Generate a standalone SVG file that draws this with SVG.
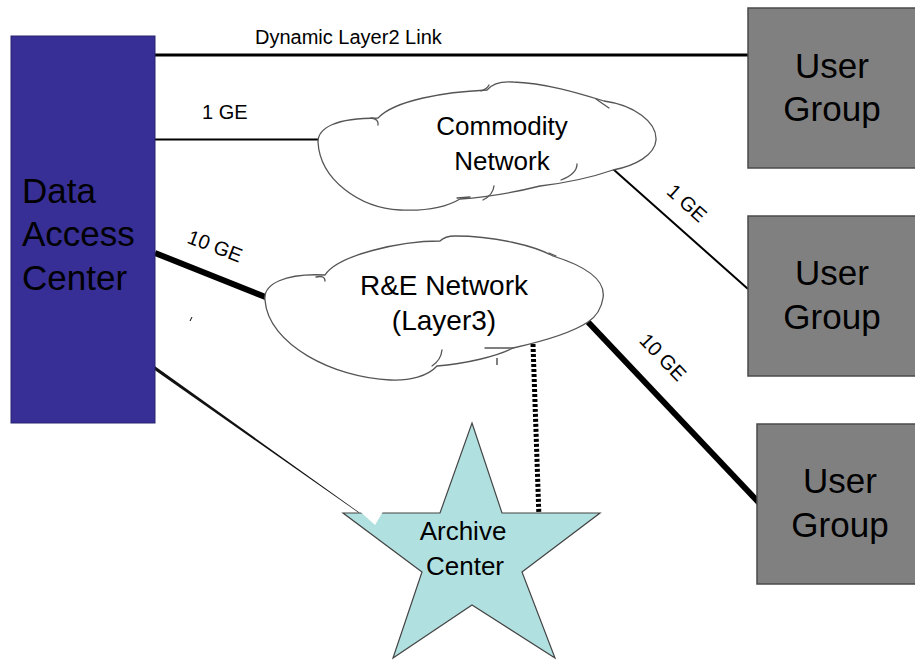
<svg xmlns="http://www.w3.org/2000/svg" width="915" height="661" viewBox="0 0 915 661">
  <style>
    text { font-family: "Liberation Sans", Arial, sans-serif; fill: #000; }
    .big { font-size: 35px; }
    .cloudtxt { font-size: 26px; text-anchor: middle; }
    .lbl { font-size: 20px; }
    .lblc { font-size: 20px; text-anchor: middle; }
    .ug { fill: #808080; stroke: #4a4a4a; stroke-width: 1.5; }
    .cloud { fill: #fff; stroke: #555; stroke-width: 1.3; }
    .hook { fill: none; stroke: #555; stroke-width: 1.3; stroke-linecap: round; }
    .link { stroke: #000; fill: none; }
  </style>
  <rect width="915" height="661" fill="#fff"/>

  <!-- links -->
  <g id="connectors">
    <line class="link" x1="155" y1="55" x2="749" y2="55" stroke-width="3"/>
    <line class="link" x1="155" y1="139.5" x2="318" y2="139.5" stroke-width="2" stroke="#333"/>
    <line class="link" x1="155" y1="253" x2="268" y2="298" stroke-width="6"/>
    <polygon points="155,366.3 155,370.3 359,513 359,512.3" fill="#111"/>
    <line class="link" x1="613" y1="169" x2="748" y2="289" stroke-width="2" stroke="#222"/>
    <line class="link" x1="588" y1="322" x2="764" y2="508" stroke-width="6"/>
    <line class="link" x1="533" y1="344" x2="539" y2="518" stroke-width="5" stroke-dasharray="3 2"/>
    <!-- stray marks -->
    <line class="link" x1="192" y1="317" x2="190" y2="321" stroke-width="1" stroke="#444"/>
    <line class="link" x1="497" y1="358" x2="497" y2="365" stroke-width="1" stroke="#777"/>
  </g>

  <!-- link labels -->
  <g id="labels">
    <text class="lbl" x="255" y="44">Dynamic Layer2 Link</text>
    <text class="lbl" x="202" y="119">1 GE</text>
    <g transform="translate(215,246) rotate(21)"><text class="lblc" x="0" y="7">10 GE</text></g>
    <g transform="translate(687,203) rotate(42)"><text class="lblc" x="0" y="7">1 GE</text></g>
    <g transform="translate(663,357) rotate(46)"><text class="lblc" x="0" y="7">10 GE</text></g>
  </g>

  <g id="data-access-center">
    <rect x="11" y="36" width="144" height="387" fill="#372f96" stroke="#2a2470" stroke-width="1"/>
    <text class="big" x="22" y="203">Data</text>
    <text class="big" x="22" y="246">Access</text>
    <text class="big" x="22" y="290">Center</text>
  </g>

  <g id="commodity-network">
    <path class="cloud" d="M 318,142 C 318,128 335,118 378,118 C 395,100 445,92 487,90 C 492,84 500,81 513,82 C 545,83 578,93 604,101 C 634,105 657,122 656,140 C 655,155 635,166 613,170 C 590,178 565,183 540,186 C 520,191 490,197 460,199 C 445,208 422,211 400,210 C 360,208 320,180 318,142 Z"/>
    <path class="hook" d="M 371,118 Q 379,119 378,125"/>
    <path class="hook" d="M 481,91 Q 487,89 489,85"/>
    <path class="hook" d="M 596,99 Q 603,104 609,108"/>
    <path class="hook" d="M 577,164 Q 577,174 561,180"/>
    <path class="hook" d="M 494,186 Q 493,195 483,200"/>
    <path class="hook" d="M 457,198 L 470,197"/>
    <text class="cloudtxt" x="502" y="135">Commodity</text>
    <text class="cloudtxt" x="502" y="170">Network</text>
  </g>

  <g id="re-network">
    <path class="cloud" d="M 265,300 C 263,284 285,273 325,275 C 338,255 400,241 440,241 C 444,237 450,236 455,236 C 495,236 535,246 553,256 C 585,266 606,280 603,298 C 601,311 594,318 588,322 C 570,334 540,342 513,348 C 498,356 465,364 437,366 C 428,376 410,381 390,380 C 335,378 268,345 265,300 Z"/>
    <path class="hook" d="M 316,277 Q 325,275 325,281"/>
    <path class="hook" d="M 549,253 L 556,256"/>
    <path class="hook" d="M 485,348 L 513,348"/>
    <path class="hook" d="M 442,350 Q 441,360 432,366"/>
    <text class="cloudtxt" x="444" y="295" style="font-size:28px">R&amp;E Network</text>
    <text class="cloudtxt" x="444" y="330" style="font-size:28px">(Layer3)</text>
  </g>

  <g id="archive-center">
    <polygon points="472,423 502,513 600,513 522,572 555,658 472,605 393,658 422,572 343,513 440,513" fill="#b1e0e0" stroke="#444" stroke-width="1.2" stroke-linejoin="miter"/>
    <polygon points="360,511.5 383,511.5 375,525" fill="#fff"/>
    <text class="cloudtxt" x="463" y="540">Archive</text>
    <text class="cloudtxt" x="465" y="575">Center</text>
  </g>

  <g id="user-group-1">
    <rect class="ug" x="748" y="8" width="180" height="160"/>
    <text class="big" x="832" y="78" text-anchor="middle">User</text>
    <text class="big" x="832" y="121" text-anchor="middle">Group</text>
  </g>

  <g id="user-group-2">
    <rect class="ug" x="748" y="216" width="180" height="160"/>
    <text class="big" x="832" y="285" text-anchor="middle">User</text>
    <text class="big" x="832" y="329" text-anchor="middle">Group</text>
  </g>

  <g id="user-group-3">
    <rect class="ug" x="757" y="424" width="180" height="160"/>
    <text class="big" x="840" y="493" text-anchor="middle">User</text>
    <text class="big" x="840" y="537" text-anchor="middle">Group</text>
  </g>
</svg>
